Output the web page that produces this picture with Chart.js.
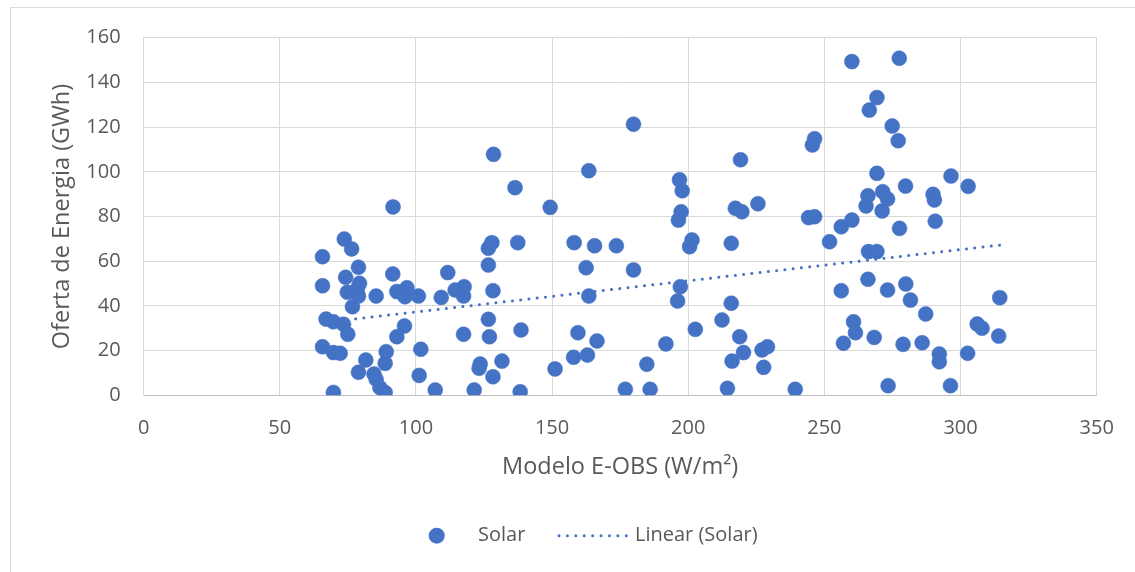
<!DOCTYPE html>
<html>
<head>
<meta charset="utf-8">
<script src="https://cdn.jsdelivr.net/npm/chart.js@4"></script>
<style>
  html, body { margin: 0; padding: 0; background: #ffffff; }
  #wrap { position: relative; width: 1135px; height: 572px; overflow: hidden; background: #fff; }
  #frame { position: absolute; left: 10px; top: 7px; width: 1200px; height: 700px; border: 1px solid #d9d9d9; box-sizing: border-box; pointer-events: none; }
  canvas { position: absolute; left: 0; top: 0; }
</style>
</head>
<body>
<div id="wrap">
  <div id="frame"></div>
  <canvas id="c" width="1135" height="572"></canvas>
</div>
<script>
// ---- Data ----
const seriesName = "Solar";
const trendName = "Linear (Solar)";
const xTitle = "Modelo E-OBS (W/m²)";
const yTitle = "Oferta de Energia (GWh)";

const solarX = [
  65.7, 65.7, 73.7, 76.4, 74.2, 78.9, 79.3, 74.8, 78.5, 78.9,
  76.7, 67.0, 69.7, 73.4, 75.0, 65.7, 69.7, 72.2, 81.6, 78.9,
  69.7, 85.4, 91.6, 91.5, 93.0, 96.7, 96.0, 100.9, 95.8, 93.0,
  89.1, 88.7, 84.6, 85.4, 86.8, 88.7, 101.8, 101.2, 107.1, 111.7,
  109.3, 114.4, 117.7, 117.5, 117.5, 121.4, 123.6, 123.2, 126.6, 127.9,
  126.6, 128.3, 126.6, 127.0, 128.3, 131.6, 128.5, 136.4, 137.4, 138.6,
  138.3, 149.3, 151.1, 158.1, 159.5, 157.9, 163.5, 162.5, 163.5, 163.0,
  165.6, 166.5, 176.9, 173.6, 179.9, 179.9, 186.0, 184.8, 191.8, 196.8,
  197.8, 197.4, 196.4, 197.1, 196.1, 201.4, 200.5, 202.6, 212.4, 214.4,
  215.8, 215.8, 216.1, 217.3, 219.7, 219.2, 218.9, 220.3, 225.6, 227.1,
  229.1, 227.7, 239.3, 244.2, 246.4, 245.6, 246.4, 251.9, 256.2, 256.2,
  257.0, 260.1, 260.1, 260.7, 261.4, 265.3, 266.0, 266.2, 266.0, 266.5,
  269.3, 269.3, 269.3, 268.3, 271.4, 273.2, 271.2, 273.2, 273.4, 274.9,
  277.1, 277.5, 277.6, 279.8, 279.9, 281.6, 278.9, 285.9, 287.2, 289.9,
  290.4, 290.7, 292.2, 292.2, 296.3, 296.5, 302.8, 302.6, 306.1, 307.9,
  314.4, 314.0
];
const solarY = [
  62.0, 49.0, 69.9, 65.5, 52.8, 57.3, 50.1, 46.1, 47.6, 44.4,
  39.6, 34.1, 32.9, 31.8, 27.3, 21.7, 19.1, 18.8, 15.8, 10.3,
  1.3, 44.4, 84.3, 54.3, 46.4, 48.1, 44.1, 44.4, 31.0, 26.2,
  19.5, 14.3, 9.5, 7.2, 3.4, 1.2, 20.6, 8.9, 2.4, 54.9,
  43.8, 47.1, 48.6, 44.4, 27.3, 2.4, 14.0, 12.1, 65.8, 68.3,
  58.3, 46.8, 34.0, 26.2, 8.3, 15.3, 107.8, 92.9, 68.3, 29.2,
  1.6, 84.1, 11.8, 68.3, 28.0, 17.0, 100.5, 57.1, 44.4, 18.0,
  66.9, 24.3, 2.7, 66.9, 121.3, 56.1, 2.7, 13.9, 23.0, 96.4,
  91.5, 82.1, 78.4, 48.6, 42.2, 69.5, 66.5, 29.5, 33.7, 3.1,
  68.0, 41.2, 15.3, 83.7, 82.1, 105.4, 26.2, 19.1, 85.7, 20.3,
  21.7, 12.5, 2.7, 79.5, 79.9, 112.0, 114.8, 68.7, 75.4, 46.8,
  23.3, 149.3, 78.4, 32.9, 28.0, 84.7, 89.3, 64.3, 51.9, 127.6,
  133.2, 99.3, 64.3, 25.9, 91.1, 87.8, 82.5, 47.1, 4.3, 120.5,
  113.9, 150.8, 74.7, 93.6, 49.8, 42.6, 22.8, 23.5, 36.4, 89.9,
  87.4, 77.9, 18.5, 15.0, 4.3, 98.1, 93.5, 18.8, 31.9, 30.0,
  43.7, 26.5
];
// Trendline end points
const trendX = [65.7, 314.4];
const trendY = [32.5, 67.2];

const xTicks = [0, 50, 100, 150, 200, 250, 300, 350];
const yTicks = [0, 20, 40, 60, 80, 100, 120, 140, 160];

// ---- Chart ----
const BLUE = '#4472C4';
const TEXT = '#595959';
const FONT = "'Open Sans', 'Noto Sans', sans-serif";

const scatterData = solarX.map((x, i) => ({ x: x, y: solarY[i] }));
const trendData = trendX.map((x, i) => ({ x: x, y: trendY[i] }));

const legendPlugin = {
  id: 'excelLegend',
  afterDraw(chart) {
    const ctx = chart.ctx;
    const y = 535.7;
    ctx.save();
    // marker
    ctx.fillStyle = BLUE;
    ctx.beginPath();
    ctx.arc(436.7, y, 8, 0, Math.PI * 2);
    ctx.fill();
    ctx.font = "20px " + FONT;
    ctx.fillStyle = TEXT;
    ctx.textBaseline = 'middle';
    ctx.textAlign = 'left';
    ctx.fillText(chart.data.datasets[0].label, 478, y);
    // dotted line sample
    ctx.strokeStyle = BLUE;
    ctx.lineWidth = 3;
    ctx.lineCap = 'round';
    ctx.setLineDash([0.01, 8.4]);
    ctx.beginPath();
    ctx.moveTo(559, y);
    ctx.lineTo(628, y);
    ctx.stroke();
    ctx.setLineDash([]);
    ctx.fillText(chart.data.datasets[1].label, 635, y);
    ctx.restore();
  }
};

new Chart(document.getElementById('c'), {
  type: 'scatter',
  data: {
    datasets: [
      {
        label: seriesName,
        data: scatterData,
        backgroundColor: BLUE,
        borderColor: BLUE,
        borderWidth: 0.5,
        pointRadius: 7.5,
        pointHoverRadius: 7.5
      },
      {
        type: 'line',
        label: trendName,
        data: trendData,
        borderColor: BLUE,
        borderWidth: 3,
        borderDash: [0.01, 8.3],
        borderCapStyle: 'round',
        pointRadius: 0,
        fill: false,
        tension: 0
      }
    ]
  },
  options: {
    responsive: false,
    animation: false,
    events: [],
    layout: { padding: { left: 10, top: 37.7, right: 38.3, bottom: 90.4 } },
    plugins: {
      legend: { display: false },
      tooltip: { enabled: false },
      title: { display: false }
    },
    scales: {
      x: {
        type: 'linear',
        min: 0, max: 350,
        afterBuildTicks: (s) => { s.ticks = xTicks.map(v => ({ value: v })); },
        afterFit: (s) => { s.height = 86.3; },
        grid: { color: '#d9d9d9', lineWidth: 1, drawTicks: false },
        border: { color: '#bfbfbf', width: 1 },
        ticks: { color: TEXT, font: { family: FONT, size: 20 }, padding: 21.1, maxRotation: 0 },
        title: {
          display: true, text: xTitle, color: TEXT,
          font: { family: FONT, size: 23.5 },
          padding: { top: 13, bottom: 0 }
        }
      },
      y: {
        type: 'linear',
        min: 0, max: 160,
        afterBuildTicks: (s) => { s.ticks = yTicks.map(v => ({ value: v })); },
        afterFit: (s) => { s.width = 133.6; },
        grid: { color: '#d9d9d9', lineWidth: 1, drawTicks: false },
        border: { color: '#d9d9d9', width: 1 },
        ticks: { color: TEXT, font: { family: FONT, size: 20 }, padding: 23 },
        title: {
          display: true, text: yTitle, color: TEXT,
          font: { family: FONT, size: 23.5 },
          padding: { top: 38.6, bottom: 0 }
        }
      }
    }
  },
  plugins: [legendPlugin]
});
</script>
</body>
</html>
